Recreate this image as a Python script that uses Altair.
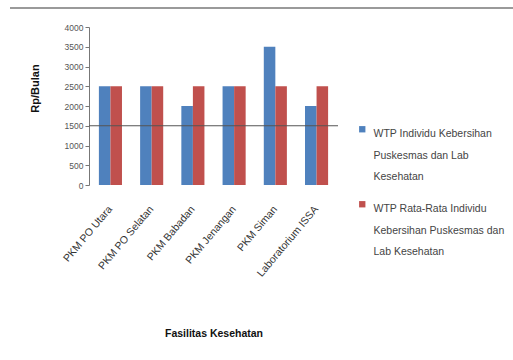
import altair as alt
import pandas as pd

facilities = ["PKM PO Utara", "PKM PO Selatan", "PKM Babadan", "PKM Jenangan", "PKM Siman", "Laboratorium ISSA"]
series = ["WTP Individu Kebersihan|Puskesmas dan Lab|Kesehatan",
          "WTP Rata-Rata Individu|Kebersihan Puskesmas dan|Lab Kesehatan"]
wtp_individu = [2500, 2500, 2000, 2500, 3500, 2000]
wtp_rata = [2500, 2500, 2500, 2500, 2500, 2500]
y_ticks = [0, 500, 1000, 1500, 2000, 2500, 3000, 3500, 4000]
ref_line = [1500]

rows = []
for f, a, b in zip(facilities, wtp_individu, wtp_rata):
    rows.append({"fasilitas": f, "seri": series[0], "nilai": a})
    rows.append({"fasilitas": f, "seri": series[1], "nilai": b})
df = pd.DataFrame(rows)
ref_df = pd.DataFrame({"nilai": ref_line})

y_scale = alt.Scale(domain=[0, 4000], nice=False)
y_axis = alt.Axis(title="Rp/Bulan", values=y_ticks, format="d", labelOverlap=False,
                  grid=False, labelFontSize=8.5,
                  labelColor="#555", domainColor="#777", tickColor="#777", tickSize=4,
                  titleFontSize=11, titleFontWeight="bold", titleColor="#111",
                  titleX=-49, titleY=61, titleAngle=-90)

bars = alt.Chart(df).mark_bar().encode(
    x=alt.X("fasilitas:N", sort=facilities,
            scale=alt.Scale(paddingInner=0.44, paddingOuter=0.24),
            axis=alt.Axis(title="Fasilitas Kesehatan", labelAngle=-50, labelFontSize=10.5,
                          labelColor="#333", domain=False, ticks=False, labelPadding=22,
                          titleFontSize=10.5, titleFontWeight="bold", titleY=148,
                          titleBaseline="middle", titleColor="#111")),
    xOffset=alt.XOffset("seri:N", sort=series),
    y=alt.Y("nilai:Q", scale=y_scale, axis=y_axis),
    color=alt.Color("seri:N", sort=series,
                    scale=alt.Scale(domain=series, range=["#4F81BD", "#C0504D"]),
                    legend=alt.Legend(title=None, orient="none", legendX=268, legendY=97,
                                      symbolType="square", symbolSize=40, labelFontSize=10.5,
                                      labelColor="#444", labelLimit=300, rowPadding=16,
                                      labelExpr="split(datum.label, '|')",
                                      labelBaseline="top", labelOffset=6)),
)

rule = alt.Chart(ref_df).mark_rule(color="#555", strokeWidth=1).encode(
    y=alt.Y("nilai:Q", scale=y_scale, axis=y_axis)
)

border = alt.Chart(ref_df).mark_rule(color="#9a9a9a", strokeWidth=2).encode(
    x=alt.value(-79), x2=alt.value(424), y=alt.value(-19)
)

chart = alt.layer(bars, rule, border).properties(
    width=249, height=158,
    autosize=alt.AutoSizeParams(type="none"),
    padding={"left": 89, "top": 27, "right": 175, "bottom": 175},
).configure(
    font="Liberation Sans",
    style={"guide-label": {"lineHeight": 21.5}},
).configure_view(stroke=None).configure_axis(grid=False)

chart.save("out.html", embed_options={"renderer": "svg", "actions": False})
